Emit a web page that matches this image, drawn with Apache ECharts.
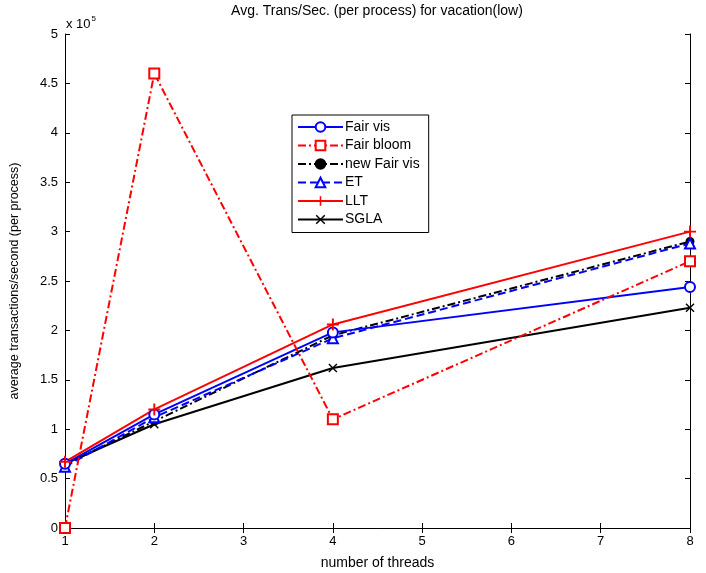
<!DOCTYPE html>
<html>
<head>
<meta charset="utf-8">
<script src="https://cdn.jsdelivr.net/npm/echarts@6/dist/echarts.min.js"></script>
<style>
  html, body { margin: 0; padding: 0; background: #fff; }
  #chart { width: 706px; height: 573px; }
</style>
</head>
<body>
<div id="chart"></div>
<script>
// 数据
var threads = [1, 2, 4, 8];
var fairVis = [65000, 115000, 198000, 244000];
var fairBloom = [0, 460000, 110000, 270000];
var newFairVis = [64000, 108000, 195000, 290000];
var et = [62000, 112000, 192000, 288000];
var llt = [67000, 120000, 206000, 300000];
var sgla = [65000, 105000, 162000, 223000];

var FONT = 'Liberation Sans';
var PLUS = 'path://M4.2,0h1.6v10h-1.6z M0,4.2h10v1.6h-10z';
var CROSS = 'path://M1.1,0L5,3.9L8.9,0L10,1.1L6.1,5L10,8.9L8.9,10L5,6.1L1.1,10L0,8.9L3.9,5L0,1.1z';
var DASHDOT = [8, 3, 2, 3];

function pairs(ys) {
    return threads.map(function (x, i) { return [x, ys[i]]; });
}

function mkSeries(name, ys, color, lineType, symbol, size, fill) {
    return {
        name: name,
        type: 'line',
        data: pairs(ys),
        symbol: symbol,
        symbolSize: size,
        showAllSymbol: true,
        lineStyle: { color: color, width: 2, type: lineType },
        itemStyle: { color: fill, borderColor: color, borderWidth: 2 },
        emphasis: { disabled: true },
        animation: false
    };
}

var chart = echarts.init(document.getElementById('chart'));

var axisLine = { show: true, lineStyle: { color: '#000', width: 1 } };
var tick = { show: true, inside: true, length: 5, lineStyle: { color: '#000' } };

var option = {
    backgroundColor: '#fff',
    textStyle: { fontFamily: FONT },
    grid: { left: 65, right: 16, top: 34, bottom: 45, show: false, containLabel: false, outerBoundsMode: 'none' },
    legend: {
        orient: 'vertical',
        left: 292,
        top: 115,
        padding: [5, 9, 6, 5],
        itemWidth: 45,
        itemHeight: 12,
        itemGap: 4.5,
        borderColor: '#000',
        borderWidth: 1,
        backgroundColor: '#fff',
        textStyle: { color: '#000', fontSize: 14, fontFamily: FONT, padding: [0, 0, 0, -3] },
        data: ['Fair vis', 'Fair bloom', 'new Fair vis', 'ET', 'LLT', 'SGLA']
    },
    graphic: [
        {
            type: 'text', x: 377, y: 4,
            style: { text: 'Avg. Trans/Sec. (per process) for vacation(low)', font: '14px ' + FONT, fill: '#000', align: 'center' }
        },
        {
            type: 'text', left: 66, top: 15,
            style: {
                text: '{a|x 10}{b|5}',
                rich: {
                    a: { font: '13px ' + FONT, fill: '#000' },
                    b: { font: '8px ' + FONT, fill: '#000', verticalAlign: 'top', padding: [0, 0, 10, 1] }
                }
            }
        }
    ],
    xAxis: [{
        type: 'value', min: 1, max: 8, interval: 1,
        name: 'number of threads', nameLocation: 'middle', nameGap: 28,
        nameTextStyle: { color: '#000', fontFamily: FONT, fontSize: 14 },
        axisLine: axisLine, axisTick: tick,
        axisLabel: { color: '#000', fontFamily: FONT, fontSize: 13, margin: 7 },
        splitLine: { show: false }
    }, {
        type: 'value', min: 1, max: 8, interval: 1, position: 'top',
        axisLine: axisLine, axisTick: tick, axisLabel: { show: false }, splitLine: { show: false }
    }],
    yAxis: [{
        type: 'value', min: 0, max: 500000, interval: 50000,
        name: 'average transactions/second (per process)', nameLocation: 'middle', nameGap: 44,
        nameTextStyle: { color: '#000', fontFamily: FONT, fontSize: 12.5 },
        axisLine: axisLine, axisTick: tick,
        axisLabel: {
            color: '#000', fontFamily: FONT, fontSize: 13, margin: 7,
            formatter: function (v) { return String(Math.round(v / 10000) / 10); }
        },
        splitLine: { show: false }
    }, {
        type: 'value', min: 0, max: 500000, interval: 50000, position: 'right',
        axisLine: axisLine, axisTick: tick, axisLabel: { show: false }, splitLine: { show: false }
    }],
    series: [
        mkSeries('SGLA', sgla, '#000', 'solid', CROSS, 9, '#000'),
        mkSeries('new Fair vis', newFairVis, '#000', DASHDOT, 'circle', 7, '#000'),
        mkSeries('ET', et, '#0000ff', 'dashed', 'triangle', 10, '#fff'),
        mkSeries('Fair vis', fairVis, '#0000ff', 'solid', 'circle', 10, '#fff'),
        mkSeries('LLT', llt, '#ff0000', 'solid', PLUS, 12, '#ff0000'),
        mkSeries('Fair bloom', fairBloom, '#ff0000', DASHDOT, 'rect', 10, '#fff')
    ]
};

// 加号和叉号用填充路径，不要描边
option.series.forEach(function (s) {
    if (s.symbol === PLUS || s.symbol === CROSS) {
        s.itemStyle.borderWidth = 0;
    }
});

chart.setOption(option);
</script>
</body>
</html>
